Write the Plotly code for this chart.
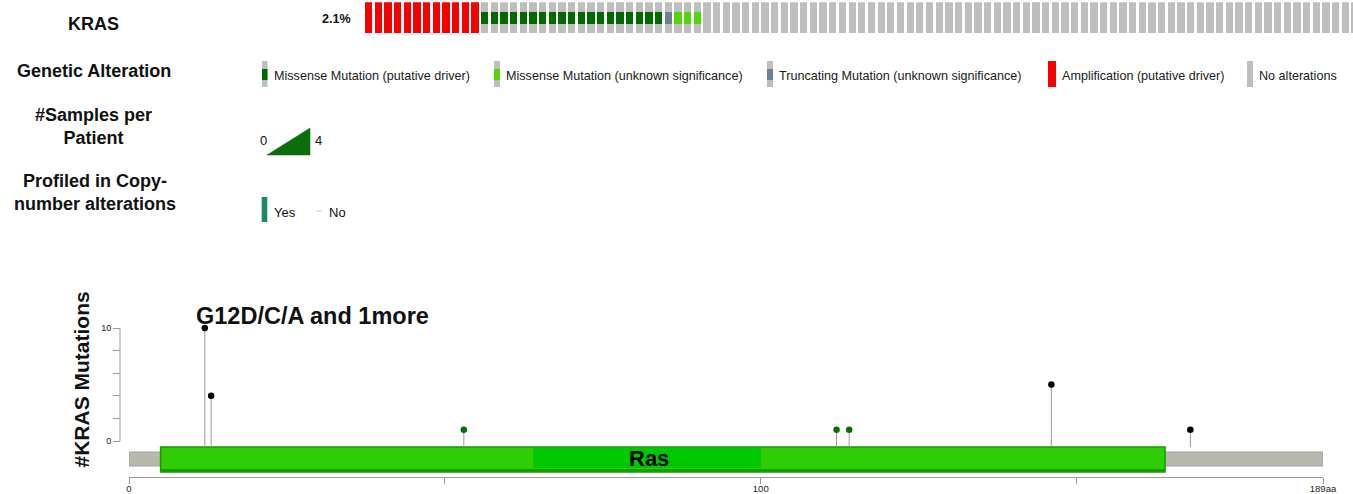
import plotly.graph_objects as go

# ---------------- data ----------------
GENE = "KRAS"
N_SAMPLES = 1667
ALTERATION_TYPES = ["amp", "missense_driver", "trunc_vus", "missense_vus"]
ALTERATION_COUNTS = [12, 19, 1, 3]

LEGEND_KEYS = ["missense_driver", "missense_vus", "trunc_vus", "amp", "none"]
LEGEND_LABELS = [
    "Missense Mutation (putative driver)",
    "Missense Mutation (unknown significance)",
    "Truncating Mutation (unknown significance)",
    "Amplification (putative driver)",
    "No alterations",
]

SAMPLES_PER_PATIENT_RANGE = ["0", "4"]
PROFILED_LABELS = ["Yes", "No"]

PROTEIN_LENGTH = 189
DOMAIN_NAME = "Ras"
DOMAIN_START = 5
DOMAIN_END = 164
DOMAIN_CORE_START = 64
DOMAIN_CORE_END = 100

MUT_POSITIONS = [12, 13, 53, 112, 114, 146, 168]
MUT_COUNTS = [10, 4, 1, 1, 1, 5, 1]
MUT_CLASSES = ["multiple", "multiple", "missense", "missense", "missense", "multiple", "multiple"]
TOP_LABEL = "G12D/C/A and 1more"

Y_TICKS = [0, 2, 4, 6, 8, 10]
Y_TICK_TEXT = ["0", "", "", "", "", "10"]
X_TICKS = [0, 50, 100, 150, 189]
X_TICK_TEXT = ["0", "", "100", "", "189aa"]

# ---------------- styling ----------------
W, H = 1353, 494
COLORS = {
    "amp": "#f70000",
    "missense_driver": "#006a00",
    "missense_vus": "#55d40c",
    "trunc_vus": "#6f7f92",
    "none": "#bebebe",
}
DOT_COLORS = {"multiple": "#000000", "missense": "#0b6b0b"}
FONT = "Liberation Sans"


def fx(p):
    return p / W


def fy(p):
    return 1 - p / H


# oncoprint cell geometry (pixels)
CELL_LEFT, CELL_PITCH, CELL_W = 365.0, 9.67, 7.3
CELL_TOP, CELL_BOTTOM = 2.3, 33.3
MUT_TOP, MUT_BOTTOM = 12.3, 24.0

status = []
for t, c in zip(ALTERATION_TYPES, ALTERATION_COUNTS):
    status += [t] * c
status += ["none"] * (N_SAMPLES - len(status))

cell_h = CELL_BOTTOM - CELL_TOP
mut_base = (CELL_BOTTOM - MUT_BOTTOM) / cell_h
mut_h = (MUT_BOTTOM - MUT_TOP) / cell_h
bw = CELL_W / CELL_PITCH
x0_val = -(CELL_LEFT + CELL_W / 2) / CELL_PITCH
x1_val = (W - CELL_LEFT - CELL_W / 2) / CELL_PITCH

fig = go.Figure()

bg_idx = [i for i, s in enumerate(status) if s != "amp"]
fig.add_trace(go.Bar(x=bg_idx, y=[1] * len(bg_idx), base=0, width=bw,
                     marker=dict(color=COLORS["none"], line=dict(width=0)),
                     xaxis="x", yaxis="y", hoverinfo="skip"))
amp_idx = [i for i, s in enumerate(status) if s == "amp"]
fig.add_trace(go.Bar(x=amp_idx, y=[1] * len(amp_idx), base=0, width=bw,
                     marker=dict(color=COLORS["amp"], line=dict(width=0)),
                     xaxis="x", yaxis="y", hoverinfo="skip"))
for key in ["missense_driver", "trunc_vus", "missense_vus"]:
    ids = [i for i, s in enumerate(status) if s == key]
    fig.add_trace(go.Bar(x=ids, y=[mut_h] * len(ids), base=mut_base, width=bw,
                         marker=dict(color=COLORS[key], line=dict(width=0)),
                         xaxis="x", yaxis="y", hoverinfo="skip"))

pct = 100 * sum(ALTERATION_COUNTS) / N_SAMPLES

# ---------------- lollipop ----------------
AX_LEFT, AX_RIGHT = 129.0, 1323.0
Y0_PX, Y10_PX = 441.0, 328.0
unit = (Y0_PX - Y10_PX) / 10.0


def vy(p):
    return (Y0_PX - p) / unit


stem_base = vy(447)
sx, sy = [], []
for pos, cnt in zip(MUT_POSITIONS, MUT_COUNTS):
    sx += [pos, pos, None]
    sy += [stem_base, cnt, None]
fig.add_trace(go.Scatter(x=sx, y=sy, mode="lines", line=dict(color="#9a9a9a", width=1),
                         xaxis="x2", yaxis="y2", hoverinfo="skip"))
fig.add_trace(go.Scatter(x=MUT_POSITIONS, y=MUT_COUNTS, mode="markers",
                         marker=dict(size=6.5, color=[DOT_COLORS[c] for c in MUT_CLASSES],
                                     line=dict(width=0)),
                         xaxis="x2", yaxis="y2", hoverinfo="skip"))

shapes = []
# protein backbone
shapes.append(dict(type="rect", xref="x2", yref="y2", x0=0, x1=PROTEIN_LENGTH,
                   y0=vy(466), y1=vy(452), fillcolor="#b7b8b0",
                   line=dict(color="#a3a49c", width=1), layer="below"))
# Pfam domain
shapes.append(dict(type="rect", xref="x2", yref="y2", x0=DOMAIN_START, x1=DOMAIN_END,
                   y0=vy(472), y1=vy(447), fillcolor="#2ecd04",
                   line=dict(color="#179a00", width=1.5), layer="below"))
shapes.append(dict(type="rect", xref="x2", yref="y2", x0=DOMAIN_START, x1=DOMAIN_END,
                   y0=vy(472), y1=vy(469), fillcolor="#1a9d00",
                   line=dict(width=0), layer="below"))
shapes.append(dict(type="rect", xref="x2", yref="y2", x0=DOMAIN_CORE_START, x1=DOMAIN_CORE_END,
                   y0=vy(468), y1=vy(448), fillcolor="#00c800",
                   line=dict(width=0), layer="below"))
# y axis spine
shapes.append(dict(type="line", xref="paper", yref="y2", x0=fx(120), x1=fx(120),
                   y0=0, y1=10, line=dict(color="#9a9a9a", width=1)))

annotations = []


def label(text, x, y, size, weight="bold", anchor="center", color="#111111"):
    annotations.append(dict(text=text, x=fx(x), y=fy(y), xref="paper", yref="paper",
                            xanchor=anchor, yanchor="middle", showarrow=False,
                            font=dict(family=FONT, size=size, color=color, weight=weight)))


# row titles
label(GENE, 93, 24, 18)
label("Genetic Alteration", 93.5, 70.5, 18)
label("#Samples per<br>Patient", 93.5, 126.5, 18)
label("Profiled in Copy-<br>number alterations", 95, 192, 18)
label(f"{pct:.1f}%", 353, 19, 12.5, anchor="right")

# alteration legend
SW_X = [262, 494, 767, 1048, 1247]
SW_W = [5.5, 6, 6, 8, 6]
for key, text, x, w in zip(LEGEND_KEYS, LEGEND_LABELS, SW_X, SW_W):
    full = COLORS["amp"] if key == "amp" else COLORS["none"]
    shapes.append(dict(type="rect", xref="paper", yref="paper", x0=fx(x), x1=fx(x + w),
                       y0=fy(87), y1=fy(61), fillcolor=full, line=dict(width=0)))
    if key not in ("amp", "none"):
        shapes.append(dict(type="rect", xref="paper", yref="paper", x0=fx(x), x1=fx(x + w),
                           y0=fy(80), y1=fy(69), fillcolor=COLORS[key], line=dict(width=0)))
    label(text, x + w + 4, 76, 12.6, weight="normal", anchor="left", color="#1a1a1a")

# samples-per-patient wedge
shapes.append(dict(type="path", xref="paper", yref="paper",
                   path=f"M {fx(267)} {fy(155)} L {fx(310)} {fy(128)} L {fx(310)} {fy(155)} Z",
                   fillcolor="#0b6e0b", line=dict(color="#0b6e0b", width=0.5)))
label(SAMPLES_PER_PATIENT_RANGE[0], 263.5, 140, 13, weight="normal")
label(SAMPLES_PER_PATIENT_RANGE[1], 318, 140, 13, weight="normal")

# profiled legend
shapes.append(dict(type="rect", xref="paper", yref="paper", x0=fx(261.7), x1=fx(267.3),
                   y0=fy(222), y1=fy(197), fillcolor="#1b8a62", line=dict(width=0)))
shapes.append(dict(type="line", xref="paper", yref="paper", x0=fx(316.5), x1=fx(321.5),
                   y0=fy(211), y1=fy(211), line=dict(color="#bbbbbb", width=1)))
label(PROFILED_LABELS[0], 271.5, 212, 13, weight="normal", anchor="left")
label(PROFILED_LABELS[1], 326.5, 212, 13, weight="normal", anchor="left")

# lollipop texts
label(TOP_LABEL, 312, 316, 23.5)
annotations.append(dict(text=f"#{GENE} Mutations", x=fx(80.5), y=fy(380), xref="paper",
                        yref="paper", textangle=-90, showarrow=False, xanchor="center",
                        yanchor="middle",
                        font=dict(family=FONT, size=21, color="#111111", weight="bold")))
annotations.append(dict(text=DOMAIN_NAME, x=(DOMAIN_CORE_START + DOMAIN_CORE_END) / 2 + 0.3,
                        y=vy(458.5), xref="x2", yref="y2", showarrow=False,
                        xanchor="center", yanchor="middle",
                        font=dict(family=FONT, size=22, color="#000000", weight="bold")))

fig.update_layout(
    width=W, height=H,
    margin=dict(l=0, r=0, t=0, b=0, autoexpand=False),
    paper_bgcolor="white", plot_bgcolor="rgba(0,0,0,0)",
    showlegend=False, barmode="overlay", bargap=0,
    shapes=shapes, annotations=annotations,
    xaxis=dict(domain=[0, 1], range=[x0_val, x1_val], visible=False, fixedrange=True,
               automargin=False),
    yaxis=dict(domain=[fy(CELL_BOTTOM), fy(CELL_TOP)], range=[0, 1], visible=False,
               automargin=False),
    xaxis2=dict(domain=[fx(AX_LEFT), fx(AX_RIGHT)], range=[0, PROTEIN_LENGTH],
                anchor="free", position=fy(477), showline=True, linecolor="#9a9a9a",
                linewidth=1, ticks="outside", ticklen=6, tickcolor="#9a9a9a",
                ticklabelstandoff=-3,
                tickvals=X_TICKS, ticktext=X_TICK_TEXT, showgrid=False, zeroline=False,
                automargin=False,
                tickfont=dict(family=FONT, size=9.5, color="#222222")),
    yaxis2=dict(domain=[fy(480), fy(318)], range=[vy(480), vy(318)],
                anchor="free", position=fx(120), showline=False, ticks="outside",
                ticklen=7, tickcolor="#9a9a9a", tickvals=Y_TICKS, ticktext=Y_TICK_TEXT,
                showgrid=False, zeroline=False, automargin=False,
                tickfont=dict(family=FONT, size=9, color="#222222")),
)

fig.write_html("out.html")
